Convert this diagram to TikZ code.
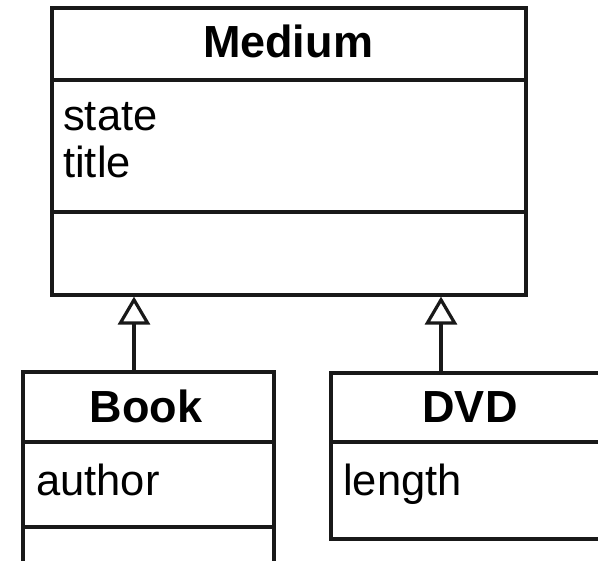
\documentclass[tikz,border=0pt]{standalone}
\usepackage{fontspec}
\setmainfont{Liberation Sans}
\usetikzlibrary{arrows.meta}
\begin{document}
\begin{tikzpicture}[x=1pt,y=-1pt,
  classbox/.style={draw=black!90,line width=3.2pt,minimum width=#1,inner sep=0pt},
  divider/.style={draw=black!90,line width=3.2pt},
  cname/.style={anchor=base,font=\fontsize{45}{50}\selectfont\bfseries,inner sep=0pt},
  attr/.style={anchor=base west,font=\fontsize{43.5}{48}\selectfont,inner sep=0pt},
  inherit/.style={draw=black!90,line width=3.2pt,
    -{Triangle[open,length=28pt,width=32pt,line width=3.2pt]}}]
\useasboundingbox (0,0) rectangle (598,561);
\clip (0,0) rectangle (598,561);

% class Medium
\node[classbox=474pt,minimum height=287pt] (medium) at (289,151.5) {};
\draw[divider] (medium.west |- 0,80) -- (medium.east |- 0,80);
\draw[divider] (medium.west |- 0,212) -- (medium.east |- 0,212);
\node[cname] (mediumname) at (288,58) {Medium};
\node[attr] (state) at (63,131) {state};
\node[attr] (title) at (63,178) {title};

% class Book
\node[classbox=251pt,minimum height=260pt] (book) at (148.5,502) {};
\draw[divider] (book.west |- 0,442) -- (book.east |- 0,442);
\draw[divider] (book.west |- 0,527) -- (book.east |- 0,527);
\node[cname] (bookname) at (146,423) {Book};
\node[attr] (author) at (36,496) {author};

% class DVD
\node[classbox=278pt,minimum height=166pt] (dvd) at (470,456) {};
\draw[divider] (dvd.west |- 0,442) -- (dvd.east |- 0,442);
\node[cname] (dvdname) at (470,423) {DVD};
\node[attr] (length) at (343,496) {length};

% generalisation arrows
\draw[inherit] ([xshift=-14.5pt]book.north) -- ([xshift=-14.5pt]book.north |- medium.south);
\draw[inherit] ([xshift=-29pt]dvd.north) -- ([xshift=-29pt]dvd.north |- medium.south);
\end{tikzpicture}
\end{document}
